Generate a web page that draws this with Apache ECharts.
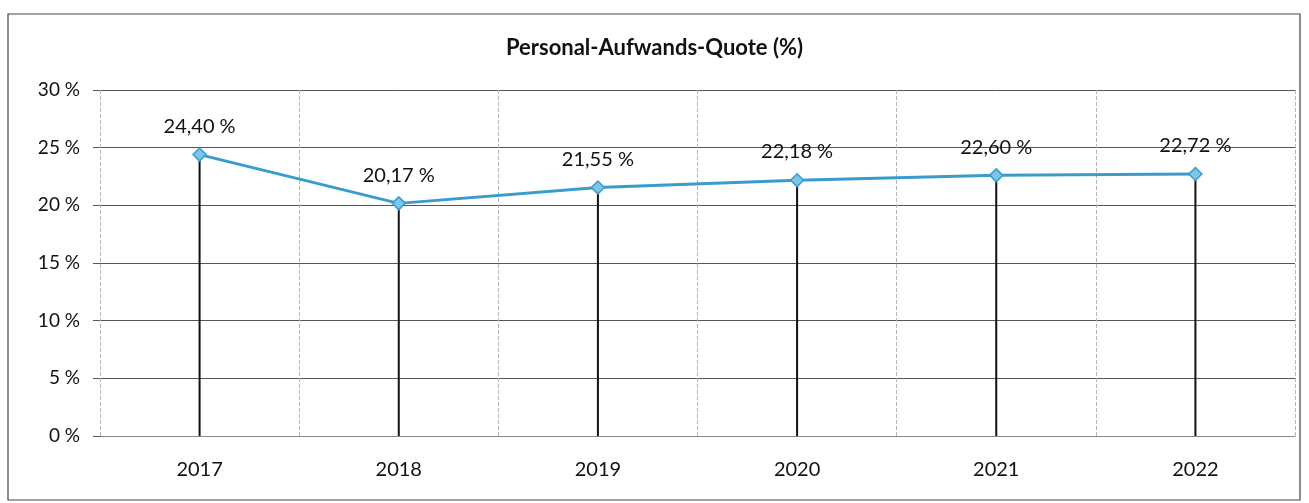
<!DOCTYPE html>
<html>
<head>
<meta charset="utf-8">
<script src="https://cdn.jsdelivr.net/npm/echarts@6/dist/echarts.min.js"></script>
<style>
  html, body { margin: 0; padding: 0; background: #fff; }
  #chart { width: 1309px; height: 503px; }
</style>
</head>
<body>
<div id="chart"></div>
<script>
// Personnel expense ratio per year, in percent
const years = ['2017', '2018', '2019', '2020', '2021', '2022'];
const quote = [24.40, 20.17, 21.55, 22.18, 22.60, 22.72];
const yTicks = [0, 5, 10, 15, 20, 25, 30];

const fmtPct = v => v.toFixed(2).replace('.', ',') + ' %';
const font = 'Lato, "Open Sans", sans-serif';

const chart = echarts.init(document.getElementById('chart'));
chart.setOption({
  animation: false,
  backgroundColor: '#fff',
  title: {
    text: 'Personal-Aufwands-Quote (%)',
    left: 'center',
    top: 32,
    textStyle: { fontFamily: font, fontSize: 22, fontWeight: 'bold', color: '#111' }
  },
  graphic: [{
    type: 'rect',
    shape: { x: 8, y: 14, width: 1292, height: 486 },
    style: { fill: 'none', stroke: '#444', lineWidth: 1.2 },
    silent: true
  }],
  grid: { left: 100, right: 14, top: 90, bottom: 67 },
  xAxis: {
    type: 'category',
    data: years,
    boundaryGap: true,
    axisLine: { show: true, lineStyle: { color: '#888', width: 1 } },
    axisTick: { show: false },
    axisLabel: { fontFamily: font, fontSize: 20, color: '#111', margin: 24 },
    splitLine: { show: true, lineStyle: { color: '#b5b5b5', type: 'dashed', width: 1 } }
  },
  yAxis: {
    type: 'value',
    min: yTicks[0],
    max: yTicks[yTicks.length - 1],
    interval: yTicks[1] - yTicks[0],
    axisLine: { show: false },
    axisTick: { show: true, length: 7, lineStyle: { color: '#555' } },
    axisLabel: { fontFamily: font, fontSize: 19, color: '#111', margin: 20, formatter: v => v + ' %' },
    splitLine: { show: true, lineStyle: { color: '#555', width: 1 } }
  },
  series: [
    {
      // vertical drop lines from each point down to the axis
      type: 'bar',
      data: quote,
      barWidth: 2,
      itemStyle: { color: '#111' },
      silent: true,
      z: 2
    },
    {
      type: 'line',
      data: quote,
      symbol: 'diamond',
      symbolSize: 13,
      lineStyle: { color: '#3a9ccc', width: 3 },
      itemStyle: { color: '#7cc4e8', borderColor: '#3a9ccc', borderWidth: 1.5 },
      label: {
        show: true,
        position: 'top',
        distance: 11,
        fontFamily: font,
        fontSize: 20,
        color: '#111',
        formatter: p => fmtPct(p.value)
      },
      z: 5
    }
  ]
});
</script>
</body>
</html>
